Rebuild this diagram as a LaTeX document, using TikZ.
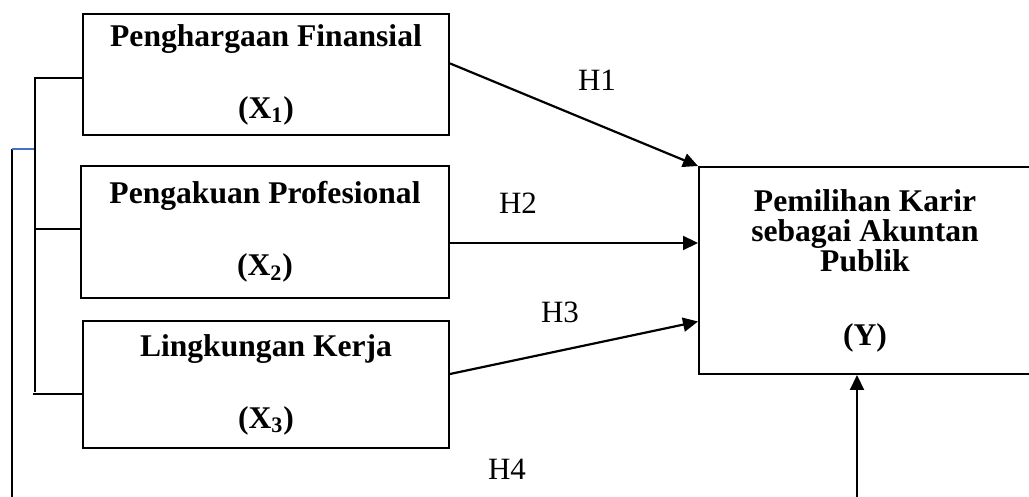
\documentclass[tikz,border=0pt]{standalone}
\usepackage{fontspec}
\setmainfont{Liberation Serif}
\usetikzlibrary{calc}
\usetikzlibrary{arrows.meta}
\definecolor{tickblue}{RGB}{68,114,196}

\begin{document}
\begin{tikzpicture}[x=0.5pt,y=-0.5pt,
  varbox/.style={draw,line width=1pt,inner sep=0pt,align=center,
    font=\fontsize{15.8}{15}\selectfont\bfseries},
  hyp/.style={font=\fontsize{15.5}{18}\selectfont},
  link/.style={line width=1.1pt,-{Triangle[length=7.5pt,width=7pt]}},
  bracket/.style={line width=0.75pt}]
\useasboundingbox (0,0) rectangle (1029,497);
\node[varbox,minimum width=183pt,minimum height=60.5pt] (x1) at (266,74.5) {Penghargaan Finansial\\[21pt](X\textsubscript{1})};
\node[varbox,minimum width=184pt,minimum height=66pt] (x2) at (265,232) {Pengakuan Profesional\\[21pt](X\textsubscript{2})};
\node[varbox,minimum width=183pt,minimum height=63.5pt] (x3) at (266,384.5) {Lingkungan Kerja\\[21pt](X\textsubscript{3})};
\node[varbox,minimum width=166pt,minimum height=103.5pt] (y) at (865,270.5) {Pemilihan Karir\\sebagai Akuntan\\Publik\\[22pt](Y)};

\draw[link] ($(x1.north east)!0.41!(x1.south east)$) -- (y.north west);
\draw[link] ($(x2.east)+(0,11)$) coordinate (h2s) -- (h2s -| y.west);
\draw[link] ($(x3.east)+(0,-10.5)$) -- ($(y.north west)!0.744!(y.south west)$);
\coordinate (h4) at (857,500);
\draw[link] (h4) -- (h4 |- y.south);

\coordinate (b1) at (35,78);
\coordinate (b3) at (35,392);
\draw[bracket] (b1 -| x1.west) -- (b1) -- (b3);
\draw[bracket] (x2.west |- 0,229) -- (35,229);
\draw[bracket] (x3.west |- 0,394) -- (33,394);

\coordinate (o1) at (12,149);
\draw[line width=1pt] (o1) -- (12,500);
\draw[tickblue,line width=0.6pt] (o1) -- (34,149);

\node[hyp] (h1) at (597,80) {H1};
\node[hyp] (h2) at (518,203) {H2};
\node[hyp] (h3) at (560,312) {H3};
\node[hyp] (h4l) at (507,469) {H4};
\end{tikzpicture}
\end{document}
